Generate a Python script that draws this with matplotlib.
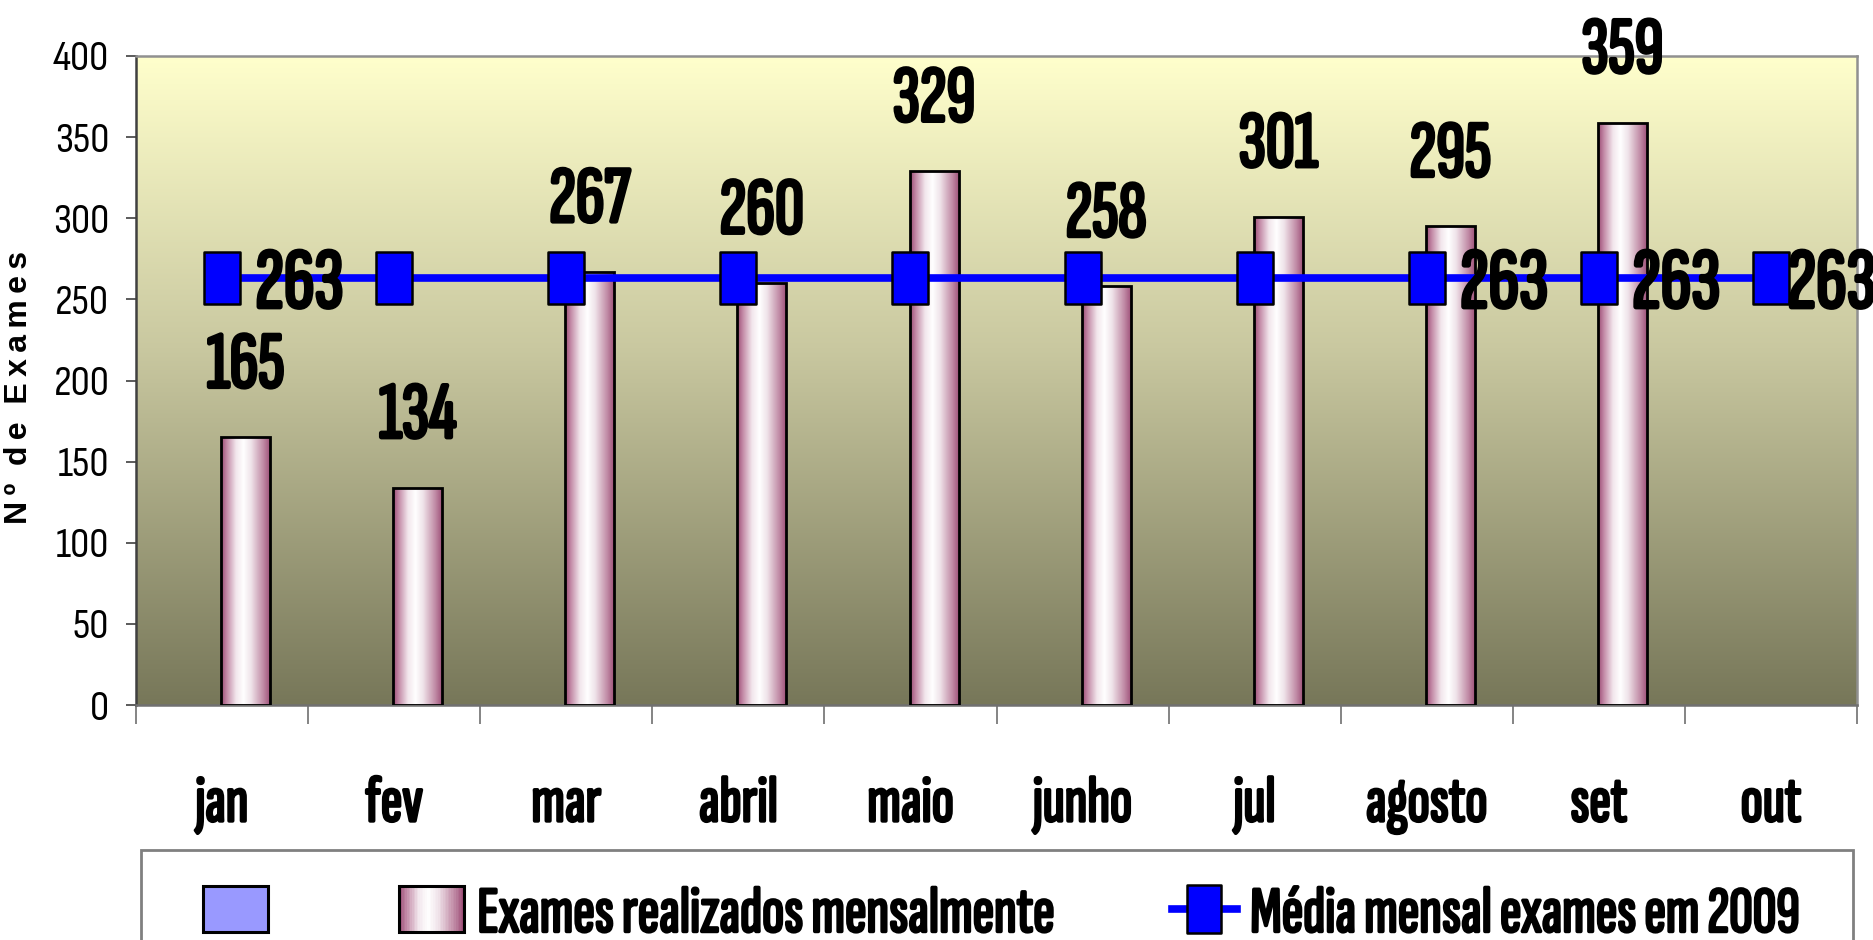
import numpy as np
import matplotlib
matplotlib.use('Agg')
import matplotlib.pyplot as plt
import matplotlib.patheffects as pe
from matplotlib.colors import LinearSegmentedColormap
from matplotlib.path import Path
from matplotlib.patches import Rectangle
from matplotlib.lines import Line2D
from matplotlib.legend_handler import HandlerBase

# ---------------- data ----------------
months = ['jan', 'fev', 'mar', 'abril', 'maio', 'junho', 'jul', 'agosto', 'set', 'out']
exames = [165, 134, 267, 260, 329, 258, 301, 295, 359]          # bars (jan..set)
media = [263, 263, 263, 263, 263, 263, 263, 263, 263, 263]      # monthly mean line
media_label_idx = [0, 7, 8, 9]                                  # labels shown on the line
yticks = [0, 50, 100, 150, 200, 250, 300, 350, 400]
legend_names = ['', 'Exames realizados mensalmente', 'Média mensal exames em 2009']
ylabel_text = 'N\u2009º  d\u2009e  E\u2009x\u2009a\u2009m\u2009e\u2009s'

# ---------------- style ----------------
BOLDF = ['Sofia Sans Extra Condensed', 'Liberation Sans', 'DejaVu Sans']
REGF = ['Sofia Sans Condensed', 'Liberation Sans', 'DejaVu Sans']
plt.rcParams['font.family'] = REGF


def heavy(size):
    return [pe.withStroke(linewidth=size * 0.045, foreground='black')]


W, H, DPI = 1873, 940, 100
fig = plt.figure(figsize=(W / DPI, H / DPI), dpi=DPI)
ax = fig.add_axes([136 / W, 1 - 705 / H, (1857 - 136) / W, (705 - 56) / H])

bg_cmap = LinearSegmentedColormap.from_list(
    'bg', [(0.0, '#FFFFCC'), (0.45, '#C9C8A0'), (1.0, '#777759')])
bar_cmap = LinearSegmentedColormap.from_list(
    'bar', [(0.0, '#9B4A74'), (0.12, '#C48CA8'), (0.3, '#F2E6EC'),
            (0.45, '#FFFFFF'), (0.6, '#F0E4EA'), (0.85, '#C08AA5'), (1.0, '#9B4A74')])

# plot-area vertical gradient
grad_v = np.linspace(0, 1, 256).reshape(-1, 1)
ax.imshow(grad_v, extent=[0, 1, 0, 1], transform=ax.transAxes, aspect='auto',
          cmap=bg_cmap, zorder=0, interpolation='bilinear')

x_all = np.arange(len(months))
x_bar = np.arange(len(exames))
bar_w = 0.285
bar_off = 0.137

bars = ax.bar(x_bar + bar_off, exames, width=bar_w, facecolor='none',
              edgecolor='black', linewidth=2, zorder=3)
grad_h = np.linspace(0, 1, 256).reshape(1, -1)
for b in bars:
    x0, w, h = b.get_x(), b.get_width(), b.get_height()
    im = ax.imshow(grad_h, extent=[x0, x0 + w, 0, h], aspect='auto', cmap=bar_cmap,
                   zorder=2, interpolation='bilinear')
    im.set_clip_path(b)

BAR_FS = 58
for b, v in zip(bars, exames):
    ax.annotate(str(v), (b.get_x() + b.get_width() / 2, v), xytext=(0, 36),
                textcoords='offset points', ha='center', va='baseline',
                fontsize=BAR_FS, family=BOLDF, zorder=6,
                annotation_clip=False, path_effects=heavy(BAR_FS))

rect_marker = Path([(-0.355, -0.5), (0.355, -0.5), (0.355, 0.5), (-0.355, 0.5), (-0.355, -0.5)],
                   [Path.MOVETO, Path.LINETO, Path.LINETO, Path.LINETO, Path.CLOSEPOLY])
ax.plot(x_all, media, color='#0000FF', linewidth=5.5, marker=rect_marker,
        markersize=37.5, markerfacecolor='#0000FF', markeredgecolor='black',
        markeredgewidth=1.8, zorder=4, clip_on=False)
LINE_FS = 62
for i in media_label_idx:
    dx = 12 if i == len(months) - 1 else 24
    ax.annotate(str(media[i]), (x_all[i], media[i]), xytext=(dx, -21),
                textcoords='offset points', ha='left', va='baseline',
                fontsize=LINE_FS, family=BOLDF, zorder=7,
                annotation_clip=False, path_effects=heavy(LINE_FS))

# axes
ax.set_xlim(-0.5, len(months) - 0.5)
ax.set_ylim(0, 400)
ax.set_yticks(yticks)
ax.set_yticklabels([str(t) for t in yticks], fontsize=31)
ax.tick_params(axis='y', length=7.2, width=1.2, color='#404040', pad=12)
ax.set_xticks(x_all)
XT_FS = 47
ax.set_xticklabels(months, fontsize=XT_FS, family=BOLDF)
for lab in ax.get_xticklabels():
    lab.set_path_effects(heavy(XT_FS))
ax.tick_params(axis='x', which='major', length=0, pad=52)
ax.set_xticks(np.arange(len(months) + 1) - 0.5, minor=True)
ax.tick_params(axis='x', which='minor', length=13.7, width=1.2, color='#707070')
for s in ['top', 'right']:
    ax.spines[s].set_color('#909090')
    ax.spines[s].set_linewidth(1.8)
ax.spines['left'].set_color('#404040')
ax.spines['left'].set_linewidth(1.8)
ax.spines['bottom'].set_color('#707070')
ax.spines['bottom'].set_linewidth(1.8)

ax.set_ylabel(ylabel_text, fontsize=23, fontweight='bold',
              family=['Liberation Sans', 'DejaVu Sans'])
ax.yaxis.set_label_coords(-0.059, 0.49)

# legend
class GradHandler(HandlerBase):
    def create_artists(self, legend, orig_handle, xdescent, ydescent, width, height,
                       fontsize, trans):
        n = 40
        arts = []
        for i in range(n):
            r = Rectangle((-xdescent + i * width / n, -ydescent), width / n * 1.05, height,
                          facecolor=bar_cmap((i + 0.5) / n), linewidth=0, transform=trans)
            arts.append(r)
        arts.append(Rectangle((-xdescent, -ydescent), width, height, facecolor='none',
                              edgecolor='black', linewidth=2.2, transform=trans))
        return arts

LEG_FS = 47
h_blue = Rectangle((0, 0), 1, 1, facecolor='#9999FF', edgecolor='black', linewidth=2.2)
h_bar = Rectangle((0, 0), 1, 1)
h_line = Line2D([], [], color='#0000FF', linewidth=5.5, marker=rect_marker,
                markersize=34, markerfacecolor='#0000FF', markeredgecolor='black',
                markeredgewidth=1.8)
leg = fig.legend([h_blue, h_bar, h_line], legend_names, ncol=3,
                 loc='center left', bbox_to_anchor=(203 / W, 1 - 915 / H),
                 frameon=False, borderpad=0, borderaxespad=0,
                 handlelength=1.0, handleheight=0.69, handletextpad=0.2,
                 columnspacing=1.8, handler_map={h_bar: GradHandler()},
                 prop={'family': BOLDF, 'size': LEG_FS})
for t in leg.get_texts():
    t.set_path_effects(heavy(LEG_FS))
fig.patches.append(Rectangle((141 / W, -0.05), (1853 - 141) / W, 0.05 + 1 - 850 / H,
                             transform=fig.transFigure, facecolor='white',
                             edgecolor='#808080', linewidth=2, zorder=-1))

fig.savefig('out.png', dpi=DPI)
